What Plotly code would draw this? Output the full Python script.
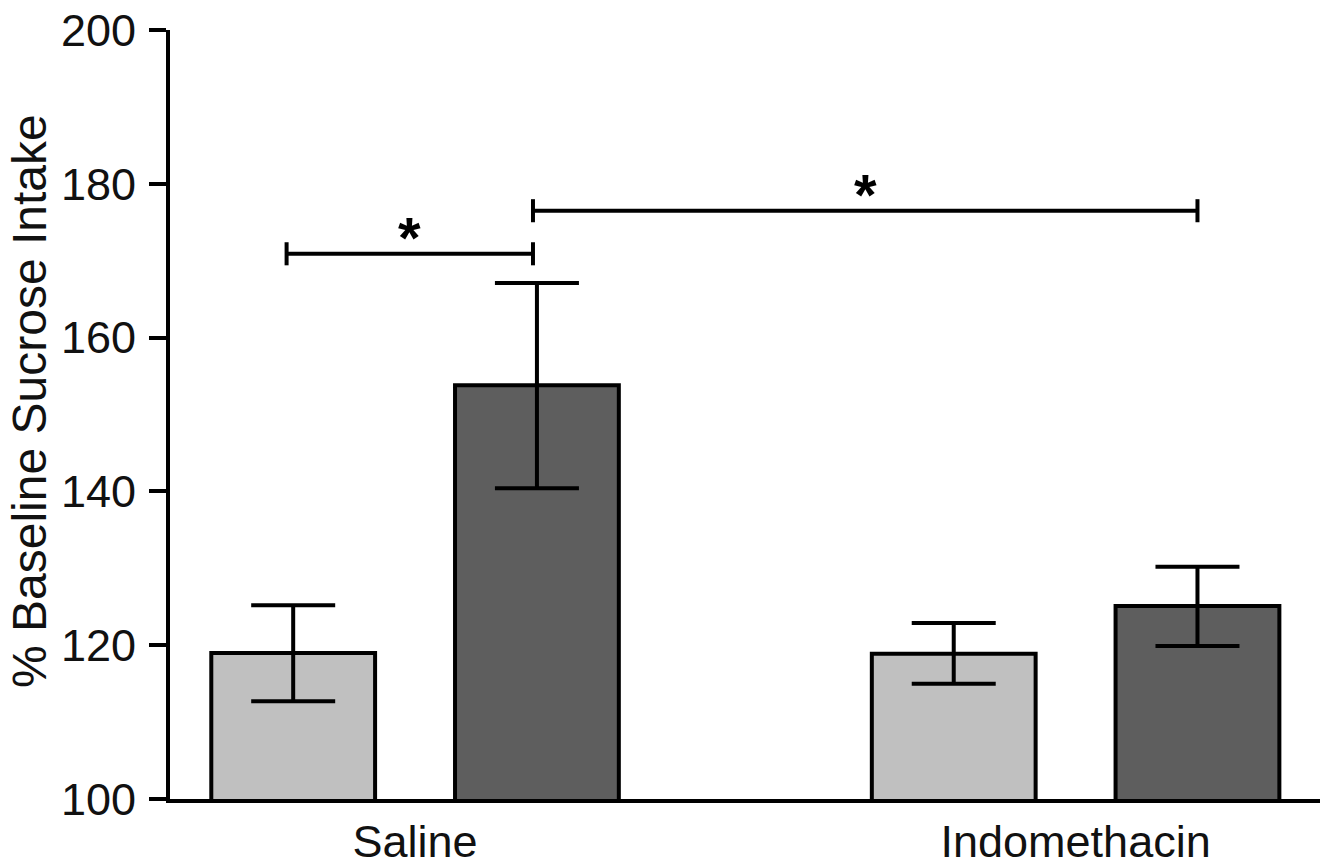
import plotly.graph_objects as go

# ---- data ----
groups = ["Saline", "Indomethacin"]
light_means = [119.0, 118.9]
light_upper = [125.2, 122.9]
light_lower = [112.7, 115.0]
dark_means = [153.8, 125.1]
dark_upper = [167.1, 130.2]
dark_lower = [140.4, 119.9]
y_ticks = [100, 120, 140, 160, 180, 200]
sig_levels = [170.9, 176.5]
sig_labels = ["*", "*"]
y_title = "% Baseline Sucrose Intake"

LIGHT = "#c0c0c0"
DARK = "#5e5e5e"
FONT = "Liberation Sans, Arial, sans-serif"

bargap = 0.262
bargroupgap = 0.328
slot = (1 - bargap) / 2
off = slot / 2


def err(means, up, lo):
    return dict(
        type="data",
        symmetric=False,
        array=[u - m for u, m in zip(up, means)],
        arrayminus=[m - l for m, l in zip(means, lo)],
        color="black",
        thickness=4,
        width=42,
    )


fig = go.Figure()
fig.add_trace(go.Bar(x=groups, y=light_means, marker=dict(color=LIGHT, line=dict(color="black", width=4)),
                     error_y=err(light_means, light_upper, light_lower), showlegend=False))
fig.add_trace(go.Bar(x=groups, y=dark_means, marker=dict(color=DARK, line=dict(color="black", width=4)),
                     error_y=err(dark_means, dark_upper, dark_lower), showlegend=False))

# significance brackets: (bar1 -> bar2), (bar2 -> bar4)
centers = [0 - off, 0 + off, 1 - off, 1 + off]
pairs = [(centers[0] - 0.01, centers[1] - 0.006), (centers[1] - 0.006, centers[3])]
tick_h = 1.5
for (x0, x1), lvl, lab in zip(pairs, sig_levels, sig_labels):
    fig.add_shape(type="line", xref="x", yref="y", x0=x0, x1=x1, y0=lvl, y1=lvl,
                  line=dict(color="black", width=4))
    for xe in (x0, x1):
        fig.add_shape(type="line", xref="x", yref="y", x0=xe, x1=xe, y0=lvl - tick_h, y1=lvl + tick_h,
                      line=dict(color="black", width=4))
    fig.add_annotation(x=(x0 + x1) / 2, y=lvl, xref="x", yref="y", text="<b>" + lab + "</b>",
                       showarrow=False, yanchor="bottom", yshift=-18,
                       font=dict(family=FONT, size=58, color="black"))

fig.add_annotation(text=y_title, xref="paper", yref="paper", x=0, y=0.5176, xshift=-140,
                   textangle=-90, showarrow=False, xanchor="center", yanchor="middle",
                   font=dict(family=FONT, size=48, color="#111111"))

fig.update_layout(
    width=1328, height=867,
    margin=dict(l=170, r=8, t=30, b=68, autoexpand=False),
    paper_bgcolor="white", plot_bgcolor="white",
    barmode="group", bargap=bargap, bargroupgap=bargroupgap,
    font=dict(family=FONT, color="#111111"),
    xaxis=dict(range=[-0.371, 1.370], showline=True, linecolor="black", linewidth=4,
               ticks="", showgrid=False, zeroline=False, ticklabelstandoff=0,
               automargin=False, ticklabeloverflow="allow",
               tickfont=dict(family=FONT, size=45, color="#111111")),
    yaxis=dict(range=[100, 200], tickvals=y_ticks, showline=True, linecolor="black", linewidth=4,
               ticks="outside", ticklen=17, tickwidth=4, tickcolor="black",
               showgrid=False, zeroline=False, ticklabelstandoff=4,
               automargin=False, ticklabeloverflow="allow",
               tickfont=dict(family=FONT, size=45, color="#111111")),
)

fig.write_html("out.html", config={"displayModeBar": False},
               post_script="document.body.style.margin='0';document.body.style.overflow='hidden';")
